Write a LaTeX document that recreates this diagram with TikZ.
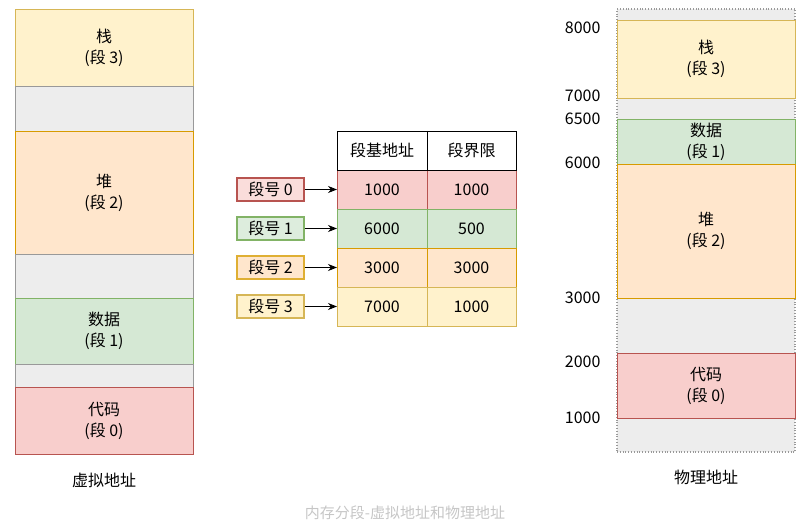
\documentclass[tikz,border=0pt]{standalone}
\usepackage{fontspec}
\setmainfont{Noto Sans CJK SC}
\usepackage{xcolor}
\usetikzlibrary{arrows.meta}

% segment colours
\definecolor{stackfill}{HTML}{FFF2CC}
\definecolor{stackline}{HTML}{D6B656}
\definecolor{heapfill}{HTML}{FFE6CC}
\definecolor{heapline}{HTML}{D79B00}
\definecolor{datafill}{HTML}{D5E8D4}
\definecolor{dataline}{HTML}{82B366}
\definecolor{codefill}{HTML}{F8CECC}
\definecolor{codeline}{HTML}{B85450}
\definecolor{gapfill}{HTML}{EDEDED}

\begin{document}
\begin{tikzpicture}[x=1pt, y=-1pt,
    seg/.style={draw, line width=0.8pt, minimum width=178pt, inner sep=0pt, outer sep=0pt,
        align=center, font=\fontsize{16}{21}\selectfont},
    gap/.style={seg, fill=gapfill, draw=gray!80},
    cell/.style={draw, line width=0.8pt, minimum height=39pt, inner sep=0pt, outer sep=0pt,
        font=\fontsize{16}{19}\selectfont},
    idxbox/.style={draw, line width=1.4pt, minimum width=67pt, minimum height=23pt, inner sep=0pt,
        font=\fontsize{16}{19}\selectfont},
    addr/.style={anchor=east, font=\fontsize{16}{19}\selectfont},
    arr/.style={-{Stealth[length=9pt, width=7pt]}, line width=1pt, black}]
    % Bounding area, same proportions as the reference
    \useasboundingbox (0,0) rectangle (800,524);

    % Virtual address space (left column)
    \node[seg, fill=stackfill, draw=stackline, minimum height=77pt] (vstack) at (104,47.5) {栈\\(段 3)};
    \node[gap, minimum height=45pt] (vgapa) at (104,108.5) {};
    \node[seg, fill=heapfill, draw=heapline, minimum height=123pt] (vheap) at (104,192.5) {堆\\(段 2)};
    \node[gap, minimum height=44pt] (vgapb) at (104,276) {};
    \node[seg, fill=datafill, draw=dataline, minimum height=66pt] (vdata) at (104,331) {数据\\(段 1)};
    \node[gap, minimum height=23pt] (vgapc) at (104,375.5) {};
    \node[seg, fill=codefill, draw=codeline, minimum height=67pt] (vcode) at (104,420.5) {代码\\(段 0)};
    \node[font=\fontsize{16}{19}\selectfont] (vlabel) at (104,480) {虚拟地址};

    % Segment table
    \node[cell, fill=white, minimum width=90pt] (hbase) at (382,150.5) {段基地址};
    \node[cell, fill=white, minimum width=89pt] (hlimit) at (471.5,150.5) {段界限};
    \node[cell, fill=codefill, draw=codeline, minimum width=90pt] (base0) at (382,189.5) {1000};
    \node[cell, fill=codefill, draw=codeline, minimum width=89pt] (limit0) at (471.5,189.5) {1000};
    \node[cell, fill=datafill, draw=dataline, minimum width=90pt] (base1) at (382,228.5) {6000};
    \node[cell, fill=datafill, draw=dataline, minimum width=89pt] (limit1) at (471.5,228.5) {500};
    \node[cell, fill=heapfill, draw=heapline, minimum width=90pt] (base2) at (382,267.5) {3000};
    \node[cell, fill=heapfill, draw=heapline, minimum width=89pt] (limit2) at (471.5,267.5) {3000};
    \node[cell, fill=stackfill, draw=stackline, minimum width=90pt] (base3) at (382,306.5) {7000};
    \node[cell, fill=stackfill, draw=stackline, minimum width=89pt] (limit3) at (471.5,306.5) {1000};
    % header drawn again so its black frame stays on top
    \draw[line width=0.8pt] (hbase.south west) rectangle (hlimit.north east);
    \draw[line width=0.8pt] (hbase.north east) -- (hbase.south east);

    % Segment numbers
    \node[idxbox, fill=codefill!70, draw=codeline] (idx0) at (270.5,189.5) {段号 0};
    \node[idxbox, fill=datafill!80, draw=dataline] (idx1) at (270.5,228.5) {段号 1};
    \node[idxbox, fill=heapfill, draw=heapline!80] (idx2) at (270.5,267.5) {段号 2};
    \node[idxbox, fill=stackfill, draw=stackline] (idx3) at (270.5,306.5) {段号 3};
    \draw[arr] (idx0) -- (base0);
    \draw[arr] (idx1) -- (base1);
    \draw[arr] (idx2) -- (base2);
    \draw[arr] (idx3) -- (base3);

    % Physical memory (right column)
    \node[seg, fill=gapfill, draw=gray!80, dotted, line width=1.2pt, minimum height=443pt] (pmem) at (706,230.5) {};
    \node[seg, fill=stackfill, draw=stackline, minimum height=78pt] (pstack) at (706,59) {栈\\(段 3)};
    \node[seg, fill=datafill, draw=dataline, minimum height=45pt] (pdata) at (706,141.5) {数据\\(段 1)};
    \node[seg, fill=heapfill, draw=heapline, minimum height=134pt] (pheap) at (706,231) {堆\\(段 2)};
    \node[seg, fill=codefill, draw=codeline, minimum height=65pt] (pcode) at (706,385.5) {代码\\(段 0)};
    \node[font=\fontsize{16}{19}\selectfont] (plabel) at (706,477) {物理地址};

    % Physical addresses
    \node[addr] (a8000) at (604,28) {8000};
    \node[addr] (a7000) at (604,96) {7000};
    \node[addr] (a6500) at (604,119) {6500};
    \node[addr] (a6000) at (604,163) {6000};
    \node[addr] (a3000) at (604,298) {3000};
    \node[addr] (a2000) at (604,362) {2000};
    \node[addr] (a1000) at (604,418) {1000};

    % Caption
    \node[text=gray!45, font=\fontsize{15}{17}\selectfont] (caption) at (405,513) {内存分段-虚拟地址和物理地址};
\end{tikzpicture}
\end{document}
